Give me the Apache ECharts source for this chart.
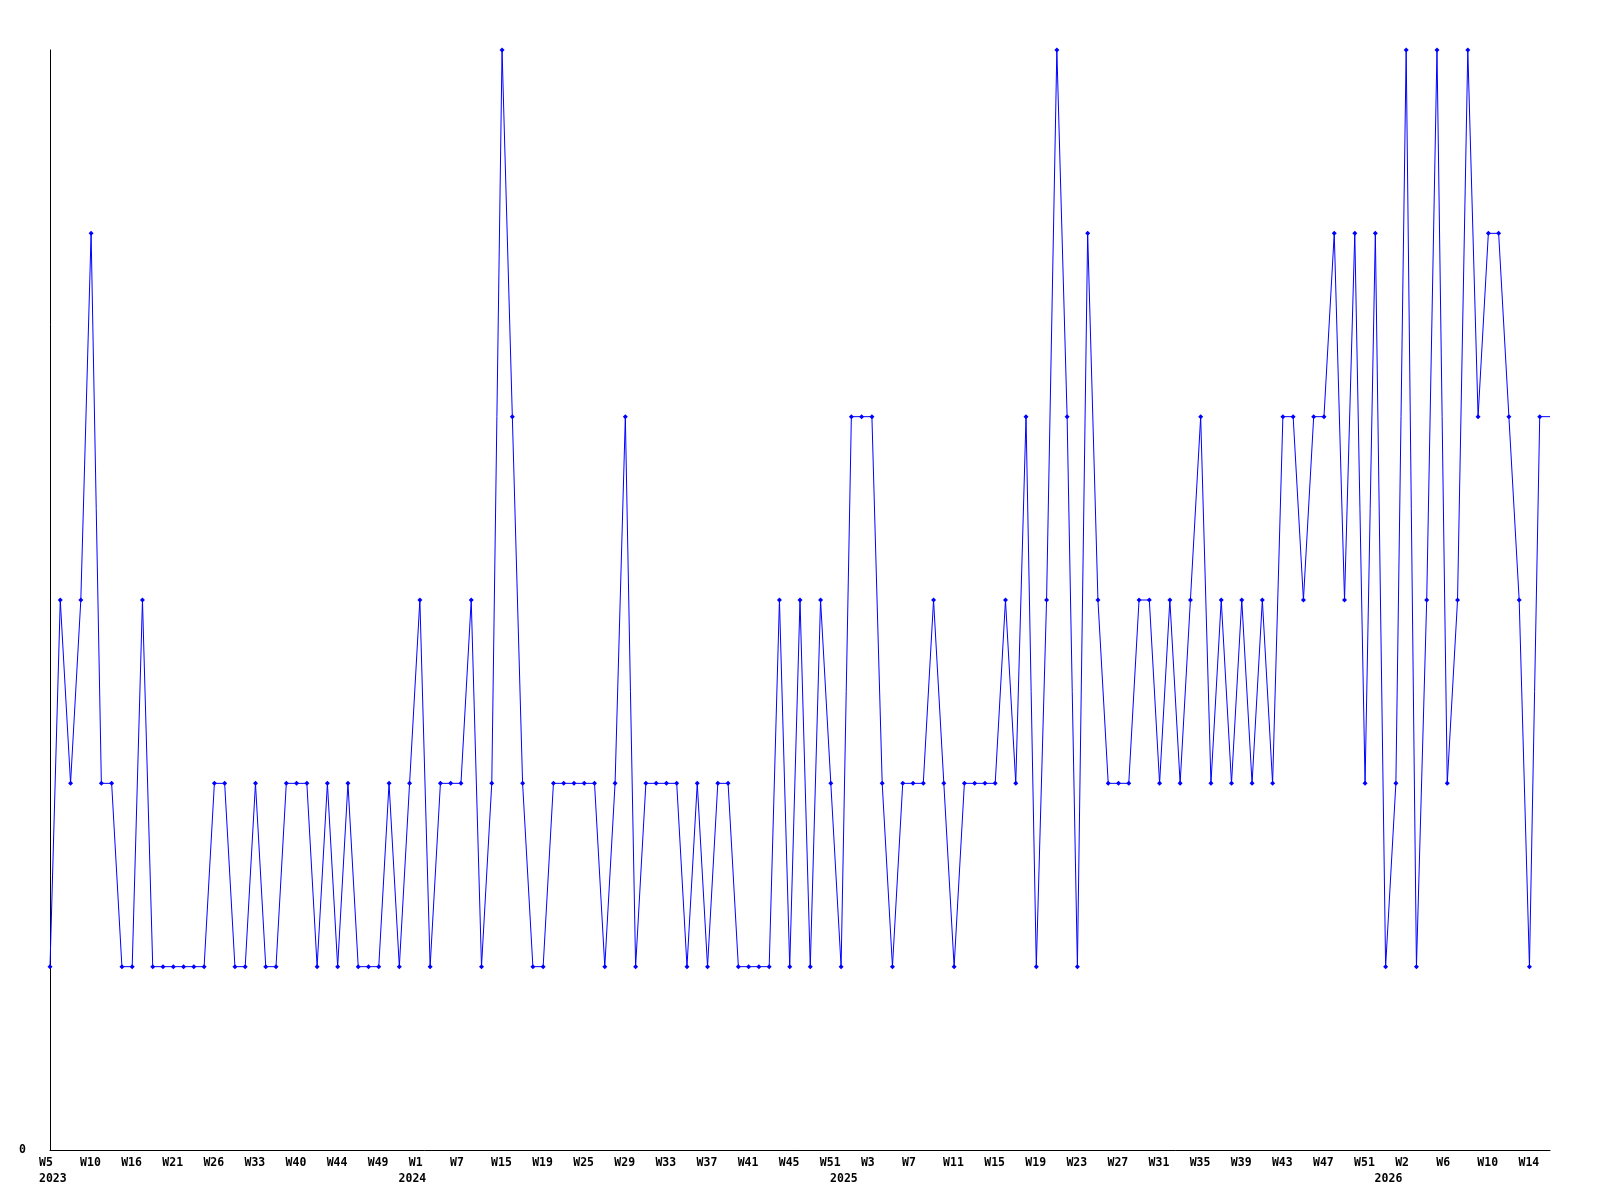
<!DOCTYPE html>
<html><head><meta charset="utf-8">
<script src="https://cdn.jsdelivr.net/npm/echarts@6/dist/echarts.min.js"></script>
<style>html,body{margin:0;padding:0;background:#fff}#c{width:1600px;height:1200px}</style>
</head><body><div id="c"></div>
<script>
const weeks = [
 '2023 W5','2023 W6','2023 W7','2023 W8','2023 W10','2023 W11','2023 W13','2023 W14','2023 W16',
 '2023 W17','2023 W18','2023 W20','2023 W21',
 '2023 W22','2023 W23','2023 W24','2023 W26',
 '2023 W27','2023 W29','2023 W31','2023 W33',
 '2023 W35','2023 W37','2023 W38','2023 W40',
 '2023 W41','2023 W42','2023 W43','2023 W44',
 '2023 W45','2023 W46','2023 W48','2023 W49',
 '2023 W50','2023 W51','2023 W52','2024 W1',
 '2024 W2','2024 W4','2024 W5','2024 W7',
 '2024 W9','2024 W11','2024 W13','2024 W15',
 '2024 W16','2024 W17','2024 W18','2024 W19',
 '2024 W20','2024 W22','2024 W23','2024 W25',
 '2024 W26','2024 W27','2024 W28','2024 W29',
 '2024 W30','2024 W31','2024 W32','2024 W33',
 '2024 W34','2024 W35','2024 W36','2024 W37',
 '2024 W38','2024 W39','2024 W40','2024 W41',
 '2024 W42','2024 W43','2024 W44','2024 W45',
 '2024 W46','2024 W48','2024 W49','2024 W51',
 '2024 W52','2025 W1','2025 W2','2025 W3',
 '2025 W4','2025 W5','2025 W6','2025 W7',
 '2025 W8','2025 W9','2025 W10','2025 W11',
 '2025 W12','2025 W13','2025 W14','2025 W15',
 '2025 W16','2025 W17','2025 W18','2025 W19',
 '2025 W20','2025 W21','2025 W22','2025 W23',
 '2025 W24','2025 W25','2025 W26','2025 W27',
 '2025 W28','2025 W29','2025 W30','2025 W31',
 '2025 W32','2025 W33','2025 W34','2025 W35',
 '2025 W36','2025 W37','2025 W38','2025 W39',
 '2025 W40','2025 W41','2025 W42','2025 W43',
 '2025 W44','2025 W45','2025 W46','2025 W47',
 '2025 W48','2025 W49','2025 W50','2025 W51',
 '2025 W52','2025 W53','2026 W1','2026 W2',
 '2026 W3','2026 W4','2026 W5','2026 W6',
 '2026 W7','2026 W8','2026 W9','2026 W10',
 '2026 W11','2026 W12','2026 W13','2026 W14',
 '2026 W15','2026 W16'
];
const values = [
 1,3,2,3,5,2,2,1,1,3,
 1,1,1,1,1,1,2,2,1,1,
 2,1,1,2,2,2,1,2,1,2,
 1,1,1,2,1,2,3,1,2,2,
 2,3,1,2,6,4,2,1,1,2,
 2,2,2,2,1,2,4,1,2,2,
 2,2,1,2,1,2,2,1,1,1,
 1,3,1,3,1,3,2,1,4,4,
 4,2,1,2,2,2,3,2,1,2,
 2,2,2,3,2,4,1,3,6,4,
 1,5,3,2,2,2,3,3,2,3,
 2,3,4,2,3,2,3,2,3,2,
 4,4,3,4,4,5,3,5,2,5,
 1,2,6,1,3,6,2,3,6,4,
 5,5,4,3,1,4,4
];
const yearTickIndex = [0, 35, 77, 130];
const yearNames = ['2023', '2024', '2025', '2026'];
const yTickLabels = ['0'];

const font = {fontFamily: '"DejaVu Sans Mono", monospace', fontSize: 11.5, fontWeight: 'bold', color: '#000'};
const seriesData = values.map((v, i) => i === values.length - 1 ? {value: v, symbol: 'none'} : v);

const chart = echarts.init(document.getElementById('c'), null, {renderer: 'canvas'});
chart.setOption({
  backgroundColor: '#fff',
  animation: false,
  grid: {left: 50, right: 50, top: 50, bottom: 50, containLabel: false},
  xAxis: [{
    type: 'category', data: weeks, boundaryGap: false, position: 'bottom',
    axisLine: {show: true, lineStyle: {color: '#000', width: 1}},
    axisTick: {show: false},
    splitLine: {show: false},
    axisLabel: {
      interval: 3, margin: 7,
      formatter: v => '{a|' + v.split(' ')[1] + '}',
      rich: {a: Object.assign({width: 22, align: 'left'}, font)}
    }
  }, {
    type: 'category', data: weeks, boundaryGap: false, position: 'bottom', offset: 16,
    axisLine: {show: false}, axisTick: {show: false}, splitLine: {show: false},
    axisLabel: {
      margin: 7,
      interval: (idx) => yearTickIndex.indexOf(idx) >= 0,
      formatter: (v, idx) => '{a|' + yearNames[yearTickIndex.indexOf(idx)] + '}',
      rich: {a: Object.assign({width: 22, align: 'left'}, font)}
    }
  }],
  yAxis: {
    type: 'value', min: 0, max: 6, interval: 1,
    axisLine: {show: true, lineStyle: {color: '#000', width: 1}},
    axisTick: {show: false},
    splitLine: {show: false},
    axisLabel: Object.assign({margin: 24, formatter: v => v === 0 ? yTickLabels[0] : ''}, font)
  },
  series: [{
    type: 'line', xAxisIndex: 0, data: seriesData,
    symbol: 'diamond', symbolSize: 5, showSymbol: true,
    lineStyle: {color: '#0000ff', width: 1},
    itemStyle: {color: '#0000ff'},
    silent: true
  }]
});
</script></body></html>
